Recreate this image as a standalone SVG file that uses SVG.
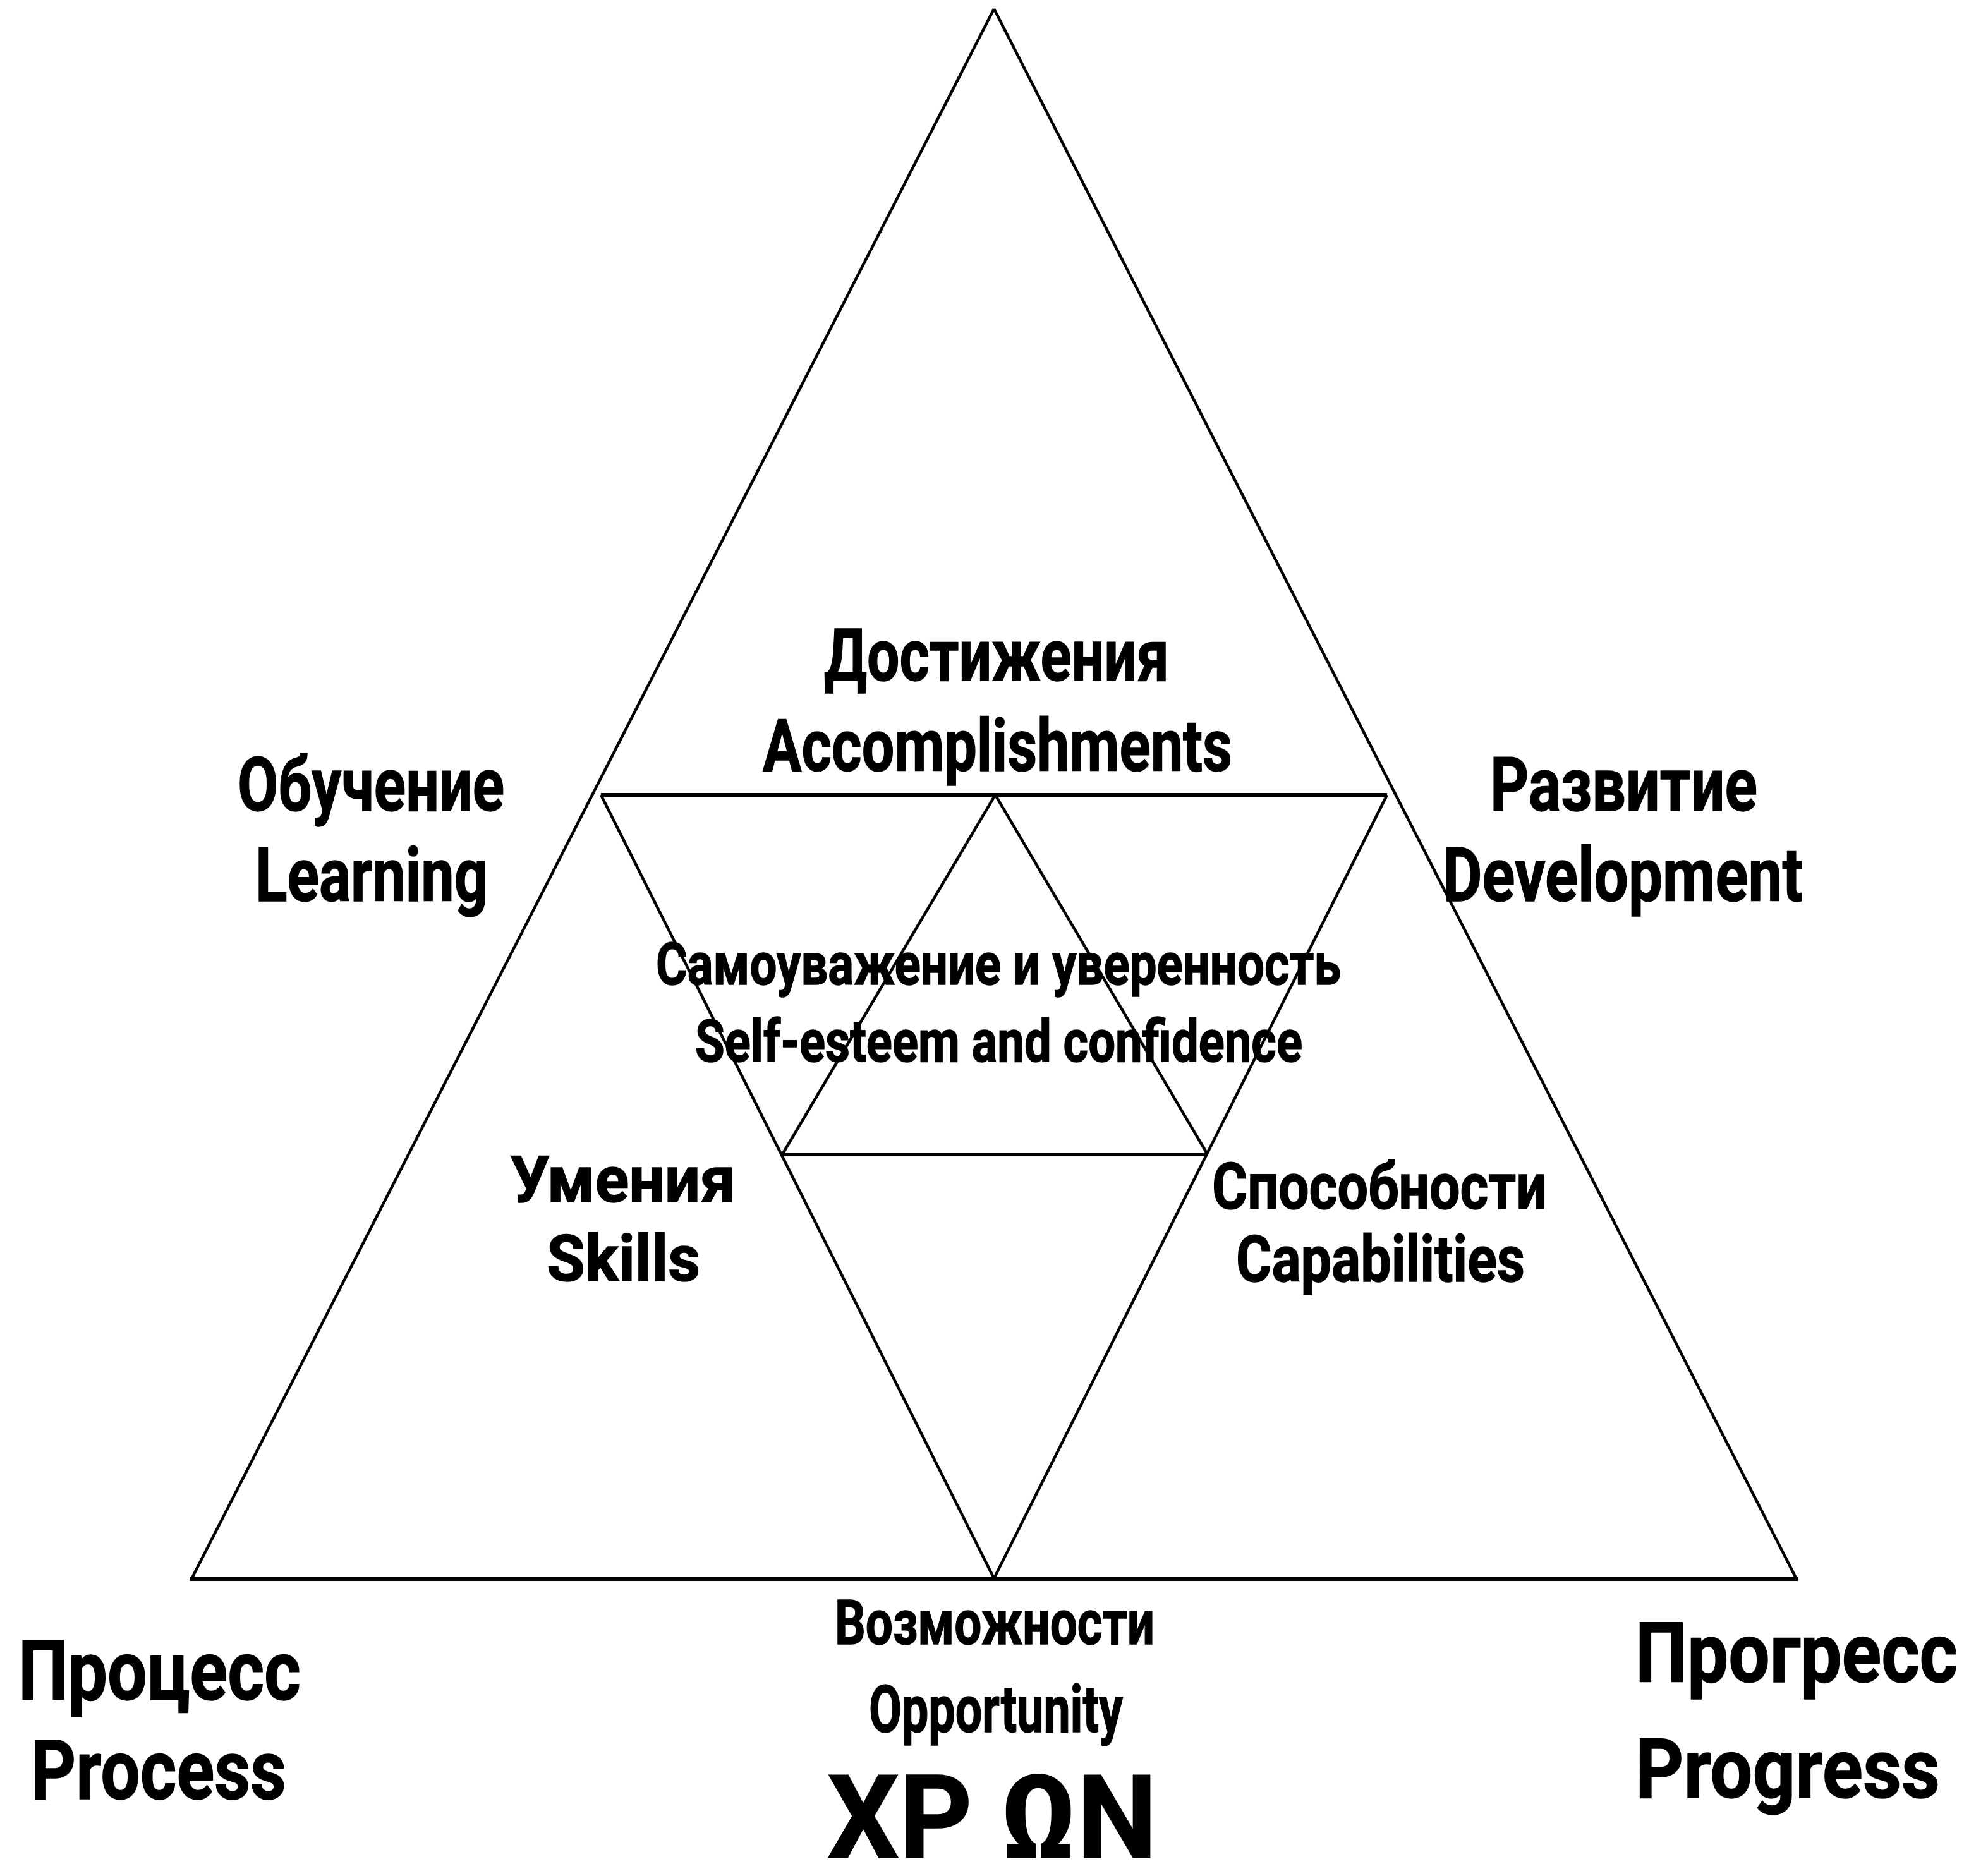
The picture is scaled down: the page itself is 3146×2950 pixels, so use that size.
<svg xmlns="http://www.w3.org/2000/svg" width="3146" height="2950" viewBox="0 0 3146 2950">
<style>
.ln{fill:none;stroke:#000;stroke-linejoin:miter;stroke-linecap:butt}
.side{stroke-width:4.5}
.hz{stroke-width:6}
text{font-family:Roboto,"Liberation Sans","Noto Sans",sans-serif;font-weight:bold;fill:#000;stroke:#000;stroke-width:1.5}
</style>
<rect width="3146" height="2950" fill="#fff"/>
<g id="connectors">
  <g id="outer-triangle">
    <line class="ln side" x1="1573" y1="14" x2="303" y2="2499"/>
    <line class="ln side" x1="1573" y1="14" x2="2843" y2="2499"/>
    <line class="ln hz" x1="301" y1="2499" x2="2845" y2="2499"/>
  </g>
  <g id="inverted-triangle">
    <line class="ln hz" x1="951" y1="1258" x2="2195" y2="1258"/>
    <line class="ln side" x1="951" y1="1258" x2="1573" y2="2498"/>
    <line class="ln side" x1="2195" y1="1258" x2="1573" y2="2498"/>
  </g>
  <g id="inner-triangle">
    <line class="ln side" x1="1575" y1="1258" x2="1238" y2="1827"/>
    <line class="ln side" x1="1575" y1="1258" x2="1911" y2="1827"/>
    <line class="ln hz" x1="1238" y1="1827" x2="1911" y2="1827"/>
  </g>
</g>
<g id="node-accomplishments">
  <text x="1304" y="1077" font-size="115" textLength="546" lengthAdjust="spacingAndGlyphs">Достижения</text>
  <text x="1207" y="1220" font-size="115" textLength="743" lengthAdjust="spacingAndGlyphs">Accomplishments</text>
</g>
<g id="node-learning">
  <text x="376" y="1283" font-size="118" textLength="422" lengthAdjust="spacingAndGlyphs">Обучение</text>
  <text x="404" y="1426" font-size="118" textLength="368" lengthAdjust="spacingAndGlyphs">Learning</text>
</g>
<g id="node-development">
  <text x="2358" y="1283" font-size="118" textLength="423" lengthAdjust="spacingAndGlyphs">Развитие</text>
  <text x="2283" y="1426" font-size="118" textLength="570" lengthAdjust="spacingAndGlyphs">Development</text>
</g>
<g id="node-self-esteem">
  <text x="1038" y="1558" font-size="92" textLength="1084" lengthAdjust="spacingAndGlyphs">Самоуважение и уверенность</text>
  <text x="1100" y="1680" font-size="92" textLength="961" lengthAdjust="spacingAndGlyphs">Self-esteem and confidence</text>
</g>
<g id="node-skills">
  <text x="807" y="1902" font-size="102" textLength="357" lengthAdjust="spacingAndGlyphs">Умения</text>
  <text x="865" y="2027" font-size="102" textLength="243" lengthAdjust="spacingAndGlyphs">Skills</text>
</g>
<g id="node-capabilities">
  <text x="1918" y="1913" font-size="102" textLength="530" lengthAdjust="spacingAndGlyphs">Способности</text>
  <text x="1956" y="2028" font-size="102" textLength="457" lengthAdjust="spacingAndGlyphs">Capabilities</text>
</g>
<g id="node-opportunity">
  <text x="1321" y="2602" font-size="98" textLength="506" lengthAdjust="spacingAndGlyphs">Возможности</text>
  <text x="1375" y="2741" font-size="104" textLength="402" lengthAdjust="spacingAndGlyphs">Opportunity</text>
  <text x="1309" y="2940" font-size="184" textLength="522" lengthAdjust="spacingAndGlyphs">XP ΩN</text>
</g>
<g id="node-process">
  <text x="29" y="2690" font-size="132" textLength="447" lengthAdjust="spacingAndGlyphs">Процесс</text>
  <text x="49" y="2847" font-size="132" textLength="404" lengthAdjust="spacingAndGlyphs">Process</text>
</g>
<g id="node-progress">
  <text x="2588" y="2662" font-size="132" textLength="510" lengthAdjust="spacingAndGlyphs">Прогресс</text>
  <text x="2588" y="2845" font-size="132" textLength="482" lengthAdjust="spacingAndGlyphs">Progress</text>
</g>
</svg>
